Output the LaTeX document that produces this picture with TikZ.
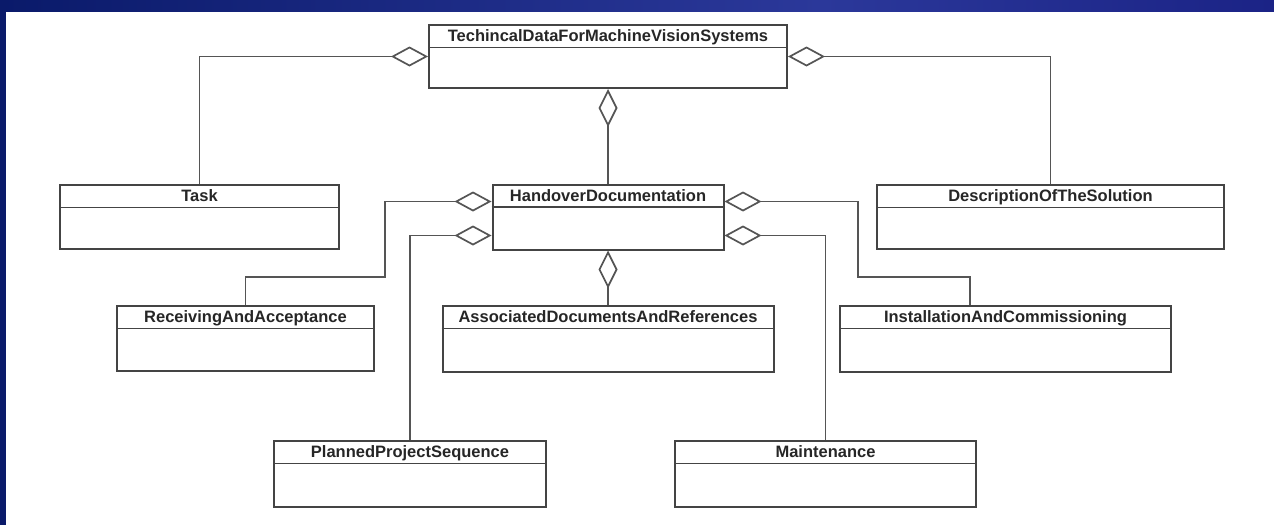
\documentclass[tikz,border=0pt]{standalone}
\usepackage{fontspec}
\setmainfont{Liberation Sans}
\usetikzlibrary{arrows.meta}
\definecolor{navyL}{HTML}{0A1A6A}
\definecolor{navyM}{HTML}{2B389A}
\definecolor{navyR}{HTML}{1B2386}
\definecolor{boxc}{HTML}{444444}
\definecolor{linec}{HTML}{555555}
\definecolor{txt}{HTML}{262626}
\newcommand\umlclass[6]{%
  \node[umlbox, minimum width=#4pt, minimum height=#5pt] (#1) at (#2,#3) {};
  \draw[divline] ([yshift=-23.5pt]#1.north west) -- ([yshift=-23.5pt]#1.north east);
  \node[title] (#1t) at ([yshift=-17.5pt]#1.north) {#6};}
\begin{document}
\begin{tikzpicture}[x=1pt,y=-1pt,
  umlbox/.style={draw=boxc, line width=2pt, fill=white, inner sep=0pt},
  divline/.style={draw=boxc, line width=1.8pt},
  title/.style={font=\fontsize{16.5}{18}\selectfont\bfseries, text=txt, inner sep=0pt, anchor=base},
  agg/.style={draw=linec, line width=1.9pt,
    {Diamond[open, length=37pt, width=20pt, line width=1.7pt]}-},
  aggv/.style={draw=linec, line width=1.9pt,
    {Diamond[open, length=38pt, width=19pt, line width=1.7pt]}-}]
\useasboundingbox (0,0) rectangle (1274,525);
\fill[white] (0,0) rectangle (1274,525);
% frame
\shade[left color=navyL, right color=navyM] (0,0) rectangle (820,11);
\shade[left color=navyM, right color=navyR] (820,0) rectangle (1274,11);
\fill[navyL] (0,0) rectangle (6,525);
% classes
\umlclass{td}{608}{56.5}{358}{63}{TechincalDataForMachineVisionSystems}
\umlclass{task}{199.5}{217}{279}{64}{Task}
\umlclass{hd}{608}{217}{231}{65}{HandoverDocumentation}
\umlclass{desc}{1050.5}{217}{347}{64}{DescriptionOfTheSolution}
\umlclass{recv}{245.5}{338.5}{257}{65}{ReceivingAndAcceptance}
\umlclass{assoc}{608}{339}{331}{66}{AssociatedDocumentsAndReferences}
\umlclass{inst}{1005.5}{339}{331}{66}{InstallationAndCommissioning}
\umlclass{plan}{410}{474}{272}{66}{PlannedProjectSequence}
\umlclass{maint}{825.5}{474}{301}{66}{Maintenance}
% bend points
\coordinate (b1) at (385,277);
\coordinate (b2) at (858,277);
% connectors
\draw[agg] (td.west) -| (task.north);
\draw[agg] (td.east) -| (desc.north);
\draw[aggv] (td.south) -- (hd.north);
\draw[agg] ([yshift=-18pt]hd.north west) -| (b1) -| (recv.north);
\draw[agg] ([yshift=-52pt]hd.north west) -| (plan.north);
\draw[aggv] (hd.south) -- (assoc.north);
\draw[agg] ([yshift=-18pt]hd.north east) -| (b2) -| ([xshift=-35.5pt]inst.north);
\draw[agg] ([yshift=-52pt]hd.north east) -| (maint.north);
\end{tikzpicture}
\end{document}
